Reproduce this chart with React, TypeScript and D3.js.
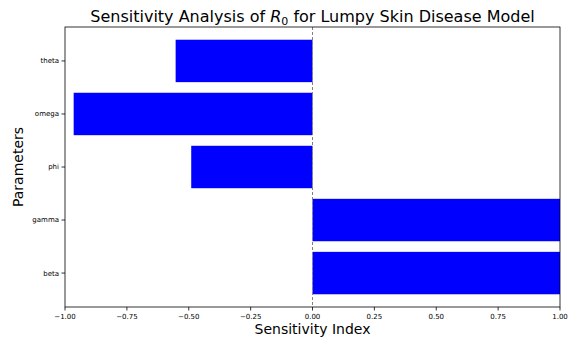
import React from "react";
import * as d3 from "d3";

const params = ["beta", "gamma", "phi", "omega", "theta"];
const sensitivity = [1.0, 1.0, -0.49, -0.965, -0.553];
const xTicks = [-1, -0.75, -0.5, -0.25, 0, 0.25, 0.5, 0.75, 1];

const W = 568, H = 340;
const m = { left: 65, right: 560, top: 27, bottom: 307 };
const FONT = "DejaVu Sans, sans-serif";

export default function App() {
  const x = d3.scaleLinear().domain([-1, 1]).range([m.left, m.right]);
  const n = params.length;
  const pad = 0.05 * (n - 1 + 0.8);
  const y = d3.scaleLinear().domain([-0.4 - pad, n - 1 + 0.4 + pad]).range([m.bottom, m.top]);
  const bh = Math.abs(y(0.8) - y(0));
  const fmt = (v: number) => d3.format(".2f")(v).replace("-", "\u2212");
  return (
    <svg width={W} height={H} style={{ position: "absolute", left: 0, top: 0 }} fontFamily={FONT}>
      <rect width={W} height={H} fill="white" />
      <defs>
        <clipPath id="plot">
          <rect x={m.left} y={m.top} width={m.right - m.left} height={m.bottom - m.top} />
        </clipPath>
      </defs>
      <g clipPath="url(#plot)">
        {params.map((p, i) => {
          const v = sensitivity[i];
          const x0 = x(Math.min(0, v)), x1 = x(Math.max(0, v));
          return <rect key={p} x={x0} y={y(i) - bh / 2} width={x1 - x0} height={bh} fill="#0000ff" />;
        })}
      </g>
      <line x1={x(0)} x2={x(0)} y1={m.top} y2={m.bottom} stroke="#808080" strokeWidth={1} strokeDasharray="3,2" />
      <rect x={m.left} y={m.top} width={m.right - m.left} height={m.bottom - m.top} fill="none" stroke="#000" strokeWidth={0.8} />
      {xTicks.map((t) => (
        <g key={t}>
          <line x1={x(t)} x2={x(t)} y1={m.bottom} y2={m.bottom + 3.5} stroke="#000" strokeWidth={0.8} />
          <text x={x(t)} y={m.bottom + 12} fontSize={7} textAnchor="middle" fill="#000">{fmt(t)}</text>
        </g>
      ))}
      {params.map((p, i) => (
        <g key={p}>
          <line x1={m.left - 3.5} x2={m.left} y1={y(i)} y2={y(i)} stroke="#000" strokeWidth={0.8} />
          <text x={m.left - 6} y={y(i)} dy="0.35em" fontSize={7} textAnchor="end" fill="#000">{p}</text>
        </g>
      ))}
      <text x={(m.left + m.right) / 2} y={334} fontSize={14} textAnchor="middle" fill="#000">Sensitivity Index</text>
      <text transform={`translate(23,${(m.top + m.bottom) / 2}) rotate(-90)`} fontSize={14} textAnchor="middle" fill="#000">Parameters</text>
      <text x={(m.left + m.right) / 2} y={22} fontSize={16} textAnchor="middle" fill="#000">
        Sensitivity Analysis of <tspan fontStyle="italic">R</tspan><tspan fontSize={11} dy={3}>0</tspan><tspan dy={-3}> for Lumpy Skin Disease Model</tspan>
      </text>
    </svg>
  );
}
